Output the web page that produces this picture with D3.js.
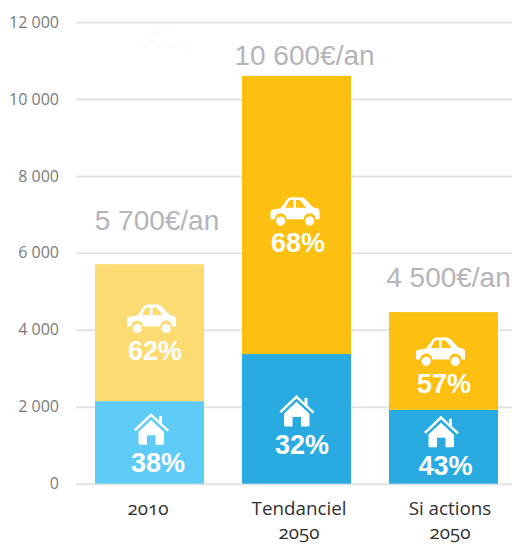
<!DOCTYPE html>
<html><head><meta charset="utf-8">
<script src="https://cdn.jsdelivr.net/npm/d3@7"></script>
<style>
html,body{margin:0;padding:0;background:#fff}
svg{display:block}
text{font-kerning:normal}
</style></head><body><div id="c"></div>
<script>
const categories = ["2010", "Tendanciel|2050", "Si actions|2050"];
const houseValues = [2145, 3370, 1920];
const carValues = [3560, 7230, 2540];
const housePct = ["38%", "32%", "43%"];
const carPct = ["62%", "68%", "57%"];
const totalLabels = ["5 700€/an", "10 600€/an", "4 500€/an"];
const tickValues = [0, 2000, 4000, 6000, 8000, 10000, 12000];

const width = 512, height = 545;
const m = {left: 76, right: 0, top: 22, bottom: 61.3};
const faded = [true, false, false];
const colours = {house: "#29abe2", car: "#fdc010", houseFaded: "#5fcbf7", carFaded: "#fddb73"};

const svg = d3.select("#c").append("svg").attr("width", width).attr("height", height);
const y = d3.scaleLinear().domain([0, 12000]).range([height - m.bottom, m.top]);
const x = d3.scaleBand().domain(categories).range([m.left, m.left + 441]).paddingInner(0.2585).paddingOuter(0.1293);

const fmt = v => d3.format(",")(v).replace(/,/g, " ");
const yAxis = d3.axisLeft(y).tickValues(tickValues).tickFormat(fmt).tickSize(0).tickPadding(17);
const ga = svg.append("g").attr("transform", `translate(${m.left},0)`).call(yAxis);
ga.select(".domain").remove();
ga.selectAll("text").attr("font-family", "'Open Sans'").attr("font-size", 16).attr("fill", "#7b7b7b");
ga.selectAll(".tick").append("line").attr("x1", 0).attr("x2", width - m.left).attr("stroke", "#e3e3e3").attr("stroke-width", 2);

const rows = categories.map((c, i) => ({c, i, house: houseValues[i], car: carValues[i]}));
const stack = d3.stack().keys(["house", "car"])(rows);
svg.append("g").selectAll("g").data(stack).join("g").selectAll("rect").data(s => s.map(d => ({key: s.key, d})))
  .join("rect")
  .attr("x", o => x(o.d.data.c))
  .attr("width", x.bandwidth())
  .attr("y", o => y(o.d[1]))
  .attr("height", o => y(o.d[0]) - y(o.d[1]))
  .attr("fill", o => faded[o.d.data.i] ? colours[o.key + "Faded"] : colours[o.key]);

const carPath = "M0 15.5C0 13.5 1 13 3 12.6L10 11.5L17 2.2C18 .8 19 .3 21 .3H30C32 .3 33 .8 34.5 2L42.5 10.5L46.5 11.5C48.5 12 49 13.5 49 15V22.3H45.2A6 6 0 0 0 33.2 22.3H16.2A6 6 0 0 0 4.2 22.3H0Z" +
  "M15 10.8H23V3.2H20.5C19.5 3.2 19 3.5 18.3 4.5ZM25.5 10.8H35.5L30.5 4.5C29.7 3.5 29 3.2 28 3.2H25.5Z" +
  "M10.2 19.6A4.6 4.6 0 1 0 10.2 28.8A4.6 4.6 0 1 0 10.2 19.6ZM39.2 19.6A4.6 4.6 0 1 0 39.2 28.8A4.6 4.6 0 1 0 39.2 19.6Z";
const housePath = "M0 16.2L17 0L25 7.6V3H28V10.5L35 16.6L33.2 18.4L17 3.4L1.8 18Z" +
  "M17 6.8L30 18.8V30C30 31 29.5 31.5 28.5 31.5H21.5V22H13V31.5H6C5 31.5 4.5 31 4.5 30V18.6Z";
function icon(d, cx, top, w, fill, stroke) {
  svg.append("path").attr("d", d).attr("fill-rule", "evenodd").attr("fill", fill).attr("stroke", stroke || "none")
    .attr("transform", `translate(${cx - w / 2},${top})`);
}
function label(t, cx, by, size, fill, weight) {
  svg.append("text").attr("x", cx).attr("y", by).attr("text-anchor", "middle")
    .attr("font-family", "'Liberation Sans'").attr("font-size", size).attr("font-weight", weight || "normal")
    .attr("fill", fill).text(t);
}
// Offsets from each bar's centre and from the top of each segment.
const carIconOffset = [[2, 40], [-1.5, 121], [-3, 25]];
const carPctOffset = [[5.5, 96], [1.5, 176], [.5, 81]];
const houseIconOffset = [[2, 12], [0.5, 41], [-2, 6]];
const housePctOffset = [[8.5, 71], [5.5, 100], [2, 65]];
const totalOffset = [[7.5, -34], [8, -11], [5, -25]];
const categoryOffset = [-1.5, 2.5, 6.5];
rows.forEach((r, i) => {
  const cx = x(r.c) + x.bandwidth() / 2;
  const topCar = y(r.house + r.car), topHouse = y(r.house);
  icon(carPath, cx + carIconOffset[i][0], topCar + carIconOffset[i][1], 49, "#fff");
  label(carPct[i], cx + carPctOffset[i][0], topCar + carPctOffset[i][1], 27, "#fff", "bold");
  icon(housePath, cx + houseIconOffset[i][0], topHouse + houseIconOffset[i][1], 35, "#fff");
  label(housePct[i], cx + housePctOffset[i][0], topHouse + housePctOffset[i][1], 27, "#fff", "bold");
  label(totalLabels[i], cx + totalOffset[i][0], topCar + totalOffset[i][1], 28, "#b4b4b9");
  const lines = r.c.split("|");
  const t = svg.append("text").attr("text-anchor", "middle").attr("font-family", "'Open Sans'")
    .attr("font-size", 18.8).attr("fill", "#2f2f2f").style("font-feature-settings", "'onum'");
  lines.forEach((l, k) => t.append("tspan").attr("x", cx + categoryOffset[i]).attr("y", y(0) + 31 + k * 24).text(l));
});
// Faint ghost icon left above the first bar in the source image
icon(carPath, 166, 25, 49, "none", "#fbfbfb");
</script></body></html>
